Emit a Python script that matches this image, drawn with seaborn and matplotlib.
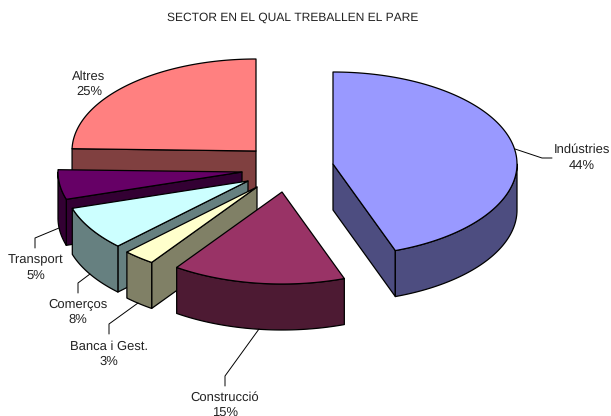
import numpy as np
import matplotlib
matplotlib.use("Agg")
import matplotlib.pyplot as plt
from matplotlib.patches import Polygon
from matplotlib.lines import Line2D
import seaborn as sns

# --- data -------------------------------------------------------------
categories = ["Indústries", "Construcció", "Banca i Gest.", "Comerços", "Transport", "Altres"]
values = [44.5, 15.2, 2.8, 7.7, 5.2, 24.6]
title = "SECTOR EN EL QUAL TREBALLEN EL PARE"

# --- style / layout ---------------------------------------------------
top_colors = ["#9999FF", "#993366", "#FFFFCC", "#CCFFFF", "#660066", "#FF8080"]
apex_px = [(333, 164), (282, 192), (257, 187), (248, 181), (242, 172), (256, 151)]
label_px = [(582, 157.5), (225, 405), (109, 354), (78, 312), (36, 268), (89, 84)]
leader_px = [
    [(515, 149), (542, 158), (552, 158)],
    [(259, 329), (225, 376), (225, 386)],
    [(138, 303), (109, 324), (109, 334)],
    [(90, 274), (78, 283), (78, 293)],
    [(59, 228), (35, 238), (35, 248)],
    None,
]
RX, RY, DEPTH = 184.0, 92.0, 46.0
TXT = "#222222"
FS = 9.4
FS_TITLE = 8.6
LW = 0.9

sns.set_theme(style="white", rc={"font.family": ["Liberation Sans", "DejaVu Sans"],
                                 "text.hinting": "none", "text.hinting_factor": 1})
palette = sns.color_palette(top_colors)
wall_palette = [tuple(c * 0.5 for c in col) for col in palette]

fig = plt.figure(figsize=(6.11, 4.16), dpi=100, facecolor="white")
ax = fig.add_axes([0, 0, 1, 1])
ax.set_xlim(0, 611)
ax.set_ylim(416, 0)
ax.axis("off")

fr = np.array(values) / np.sum(values)
ends = np.cumsum(fr) * 360.0
starts = ends - fr * 360.0


def rim(cx, cy, angle, drop=0.0):
    t = np.radians(angle)
    return np.column_stack([cx + RX * np.sin(t), cy - RY * np.cos(t) + drop])


def draw_slice(i, z):
    cx, cy = apex_px[i]
    a0, a1 = starts[i], ends[i]
    kw = dict(edgecolor="black", linewidth=LW, joinstyle="round", zorder=z)
    wall = dict(facecolor=wall_palette[i], **kw)
    # radial walls facing the viewer
    for ang, show in ((a0, np.sin(np.radians(a0)) < -1e-6), (a1, np.sin(np.radians(a1)) > 1e-6)):
        if show:
            p = rim(cx, cy, np.array([ang]))[0]
            ax.add_patch(Polygon([(cx, cy), p, (p[0], p[1] + DEPTH), (cx, cy + DEPTH)], **wall))
    # outer curved wall on the front half of the pie
    lo, hi = max(a0, 90.0), min(a1, 270.0)
    if hi > lo:
        arc = np.linspace(lo, hi, 80)
        ax.add_patch(Polygon(np.vstack([rim(cx, cy, arc), rim(cx, cy, arc[::-1], DEPTH)]), **wall))
    # top face
    arc = np.linspace(a0, a1, 160)
    ax.add_patch(Polygon(np.vstack([[(cx, cy)], rim(cx, cy, arc)]), facecolor=palette[i], **kw))


# back-to-front painter order
for z, i in enumerate([5, 4, 3, 2, 1, 0]):
    draw_slice(i, z + 2)

for i, name in enumerate(categories):
    x, y = label_px[i]
    ax.text(x, y, f"{name}\n{round(values[i])}%", ha="center", va="center",
            fontsize=FS, color=TXT, linespacing=1.38, zorder=20)
    if leader_px[i] is not None:
        xs, ys = zip(*leader_px[i])
        ax.add_line(Line2D(xs, ys, color="black", lw=0.7, zorder=19))

ax.text(293, 18, title, ha="center", va="center", fontsize=FS_TITLE, color=TXT)
fig.savefig("out.png", dpi=100, facecolor="white")
